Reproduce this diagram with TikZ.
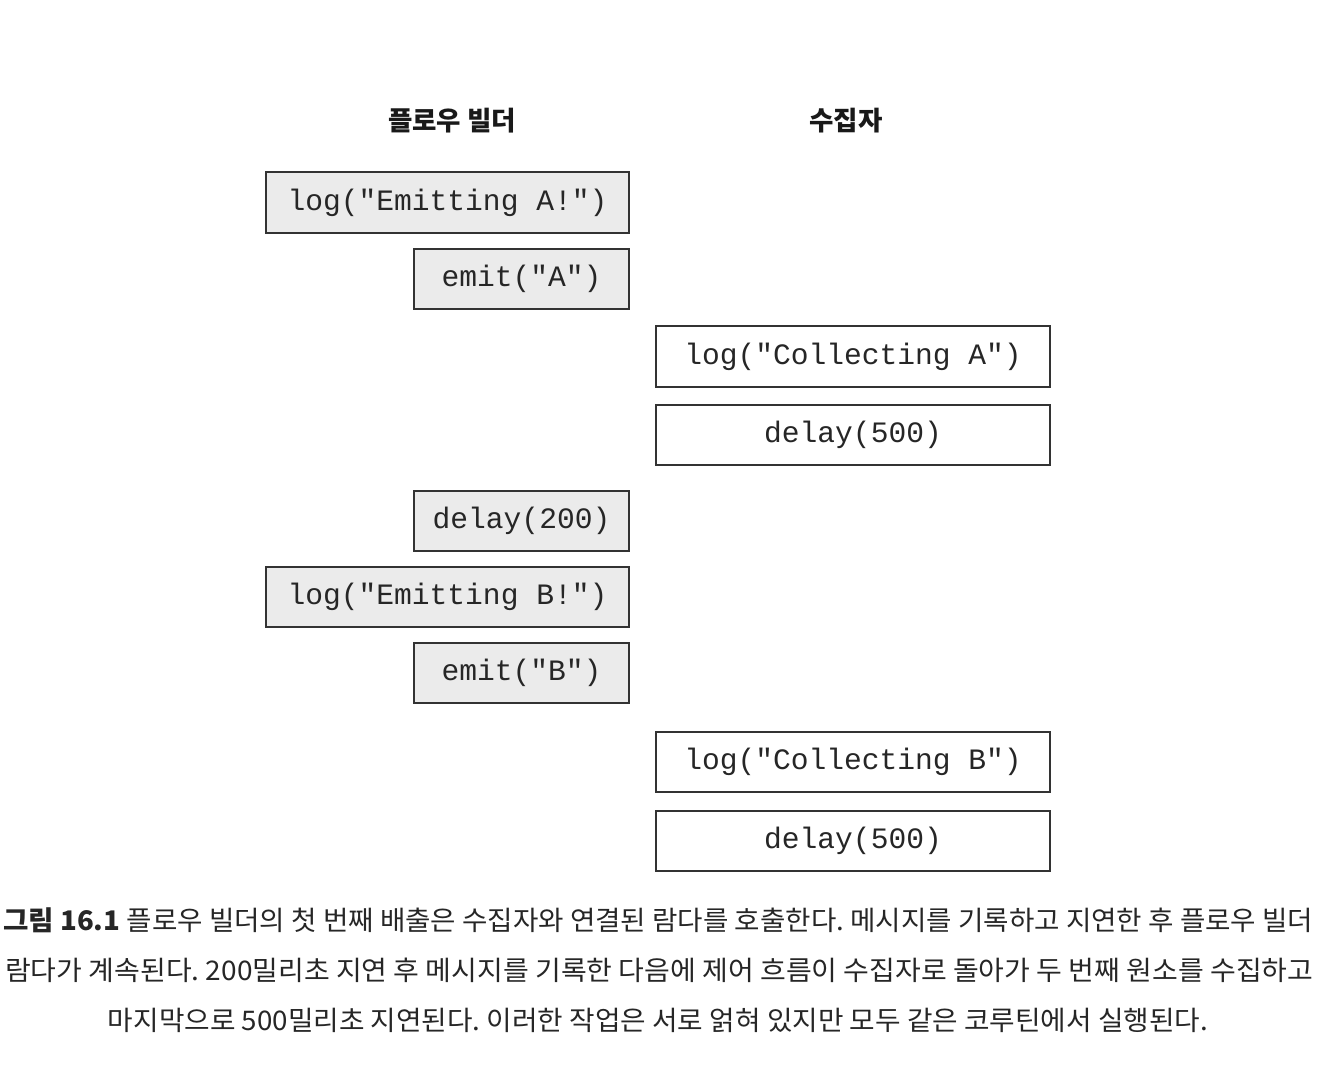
\documentclass[tikz,border=0pt]{standalone}
\usepackage{fontspec}
\setmonofont{Liberation Mono}
\newfontfamily\kr{Noto Sans CJK KR}
\frenchspacing
\begin{document}
\begin{tikzpicture}[x=1pt,y=-1pt,
  codebox/.style={draw=black!80, line width=1.8pt, inner sep=0pt, font=\ttfamily\fontsize{29.6}{30}\selectfont, text=black!85},
  emitbox/.style={codebox, fill=black!8},
  collbox/.style={codebox, fill=white},
  header/.style={font=\kr\bfseries\fontsize{26.5}{28}\selectfont, text=black!90},
  capline/.style={font=\kr\fontsize{27}{30}\selectfont, text=black!85, inner sep=0pt}]
\useasboundingbox (0,0) rectangle (1324,1066);
\node[header] (h1) at (452,121) {플로우 빌더};
\node[header] (h2) at (846,121) {수집자};
\node[emitbox, minimum width=363pt, minimum height=61pt] (e1) at (447.5,202.5) {log("Emitting A!")};
\node[emitbox, minimum width=215pt, minimum height=60pt] (e2) at (521.5,279) {emit("A")};
\node[collbox, minimum width=394pt, minimum height=61pt] (c1) at (853,356.5) {log("Collecting A")};
\node[collbox, minimum width=394pt, minimum height=60pt] (c2) at (853,435) {delay(500)};
\node[emitbox, minimum width=215pt, minimum height=60pt] (e3) at (521.5,521) {delay(200)};
\node[emitbox, minimum width=363pt, minimum height=60pt] (e4) at (447.5,597) {log("Emitting B!")};
\node[emitbox, minimum width=215pt, minimum height=60pt] (e5) at (521.5,673) {emit("B")};
\node[collbox, minimum width=394pt, minimum height=60pt] (c3) at (853,762) {log("Collecting B")};
\node[collbox, minimum width=394pt, minimum height=60pt] (c4) at (853,841) {delay(500)};
\node[capline, anchor=west] (l1) at (3,920) {\resizebox{1310pt}{\height}{{\bfseries 그림 16.1} 플로우 빌더의 첫 번째 배출은 수집자와 연결된 람다를 호출한다. 메시지를 기록하고 지연한 후 플로우 빌더}};
\node[capline, anchor=west] (l2) at (5,970) {\resizebox{1308pt}{\height}{람다가 계속된다. 200밀리초 지연 후 메시지를 기록한 다음에 제어 흐름이 수집자로 돌아가 두 번째 원소를 수집하고}};
\node[capline] (l3) at (658,1020) {\resizebox{1100pt}{\height}{마지막으로 500밀리초 지연된다. 이러한 작업은 서로 얽혀 있지만 모두 같은 코루틴에서 실행된다.}};
\end{tikzpicture}
\end{document}
